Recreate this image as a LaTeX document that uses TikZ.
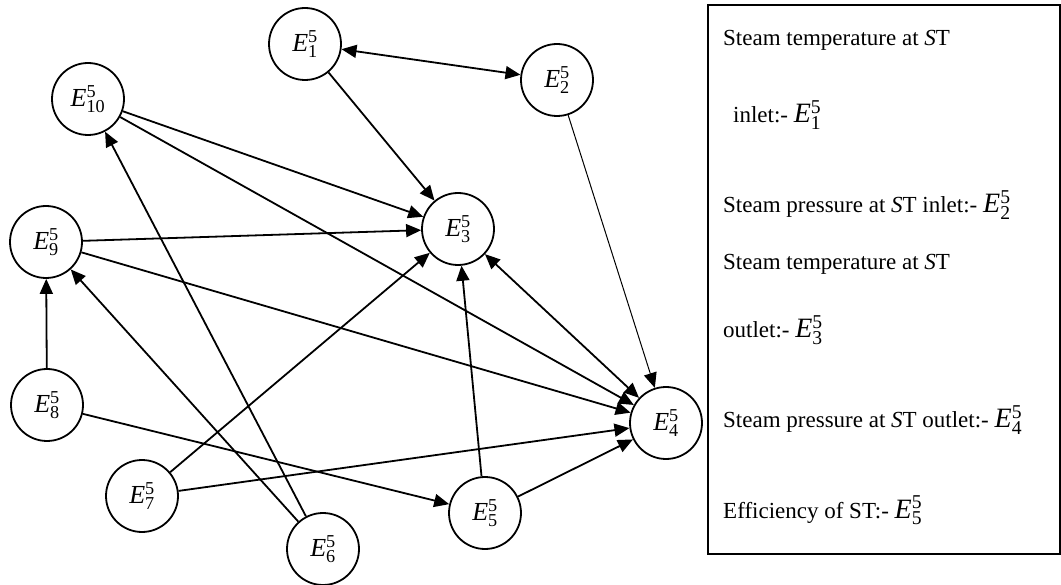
\documentclass[tikz,border=0pt]{standalone}
\usepackage{fontspec}
\setmainfont{Liberation Serif}
\usetikzlibrary{arrows.meta}
\newcommand\EV[1]{$\mathit{E}^{\mathrm{5}}_{\mathrm{#1}}$}
\begin{document}
\begin{tikzpicture}[x=1pt,y=-1pt,
  st/.style={circle,draw,line width=1.8pt,minimum size=72pt,inner sep=0pt,font=\fontsize{26}{28}\selectfont},
  tip/.style={-{Triangle[length=15pt,width=13pt]}},
  arr/.style={line width=1.8pt,tip},
  barr/.style={line width=1.8pt,{Triangle[length=15pt,width=13pt]}-{Triangle[length=15pt,width=13pt]}},
  thinarr/.style={line width=1pt,tip},
  lg/.style={anchor=base west,inner sep=0pt,font=\fontsize{23}{25}\selectfont},
  big/.style={font=\fontsize{28}{30}\selectfont}]
\useasboundingbox (0,0) rectangle (1061,585);
% nodes
\node[st] (e1) at (305,44) {\EV{1}};
\node[st] (e2) at (557,80) {\EV{2}};
\node[st] (e10) at (88,99) {\EV{10}};
\node[st] (e3) at (458,229) {\EV{3}};
\node[st] (e9) at (46,242) {\EV{9}};
\node[st] (e8) at (47,405) {\EV{8}};
\node[st] (e4) at (666,423) {\EV{4}};
\node[st] (e7) at (142,496) {\EV{7}};
\node[st] (e5) at (485,513) {\EV{5}};
\node[st] (e6) at (323,549) {\EV{6}};
% connectors
\draw[barr] (e1) -- (e2);
\draw[arr] (e1) -- (e3);
\draw[arr] (e10) -- (e3);
\draw[arr] (e10) -- (e4);
\draw[arr] (e9) -- (e3);
\draw[arr] (e9) -- (e4);
\draw[arr] (e8) -- (e9);
\draw[arr] (e8) -- (e5);
\draw[arr] (e7) -- (e3);
\draw[arr] (e7) -- (e4);
\draw[arr] (e6) -- (e9);
\draw[arr] (e6) -- (e10);
\draw[arr] (e5) -- (e3);
\draw[arr] (e5) -- (e4);
\draw[barr] (e3) -- (e4);
\draw[thinarr] (e2) -- (e4);
% legend
\draw[line width=1.3pt] (708,5) rectangle (1060,554);
\node[lg] (l1) at (723,46) {Steam temperature at \textit{S}T};
\node[lg] (l2) at (733,123) {inlet:- {\fontsize{28}{30}\selectfont\EV{1}}};
\node[lg] (l3) at (723,213) {Steam pressure at \textit{S}T inlet:- {\fontsize{28}{30}\selectfont\EV{2}}};
\node[lg] (l4) at (723,270) {Steam temperature at \textit{S}T};
\node[lg] (l5) at (723,338) {outlet:- {\fontsize{28}{30}\selectfont\EV{3}}};
\node[lg] (l6) at (723,428) {Steam pressure at \textit{S}T outlet:- {\fontsize{28}{30}\selectfont\EV{4}}};
\node[lg] (l7) at (723,518) {Efficiency of ST:- {\fontsize{28}{30}\selectfont\EV{5}}};
\end{tikzpicture}
\end{document}
